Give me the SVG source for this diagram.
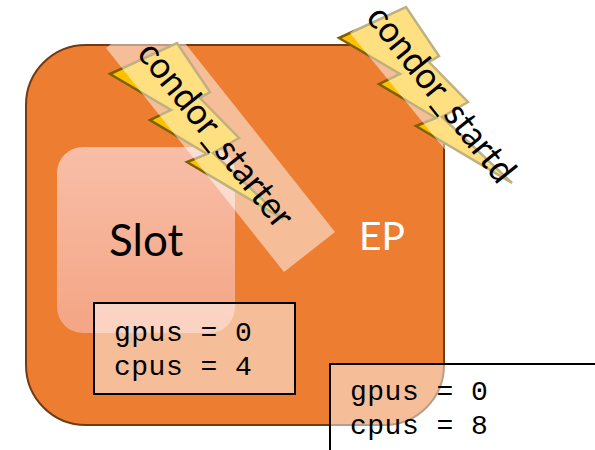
<svg xmlns="http://www.w3.org/2000/svg" width="595" height="450" viewBox="0 0 595 450">
<style>
.bolt{fill:#FFC000;stroke:#7F6000;stroke-width:2.5;stroke-linejoin:miter}
.veil{fill:#fff;fill-opacity:.5}
.box{fill:#fff;fill-opacity:.5;stroke:#000;stroke-width:2}
.mono{font-family:"Liberation Mono",monospace;font-size:28px;letter-spacing:.5px;fill:#000}
.cal{font-family:Lato,"Open Sans",sans-serif;fill:#000}
</style>
<defs>
<linearGradient id="sg" x1="0" y1="0" x2="0" y2="1"><stop offset="0" stop-color="#F8BEA8"/><stop offset="1" stop-color="#F4A584"/></linearGradient>
<polygon id="b" points="110,74 177,43 210,92 200,98 239,138 213,153 283,219 187,162 207,154 150,120 171,110"/>
</defs>
<g id="ep"><rect x="26" y="45" width="418" height="380" rx="60" fill="#ED7D31" stroke="#6F3B14" stroke-width="2"/>
<text class="cal" x="359" y="250" font-size="39" style="fill:#fff">EP</text></g>
<g id="slot"><rect x="57" y="147" width="178" height="186" rx="26" fill="url(#sg)"/>
<text class="cal" x="109" y="256" font-size="44">Slot</text></g>
<g id="starter"><use href="#b" class="bolt"/>
<polygon class="veil" points="106,48 157,8 335,232 284,272"/>
<text class="cal" transform="translate(136,54) rotate(51.5)" font-size="37" textLength="226" lengthAdjust="spacingAndGlyphs">condor_starter</text></g>
<g id="startd"><use href="#b" class="bolt" transform="translate(229,-36)"/>
<polygon class="veil" points="350,33 401,-7 546,171 495,211"/>
<text class="cal" transform="translate(365,18) rotate(51.5)" font-size="37" textLength="214" lengthAdjust="spacingAndGlyphs">condor_startd</text></g>
<g id="slot-ad"><rect class="box" x="94" y="303" width="201" height="91"/>
<text class="mono" x="114" y="341">gpus = 0</text><text class="mono" x="114" y="375">cpus = 4</text></g>
<g id="ep-ad"><rect class="box" x="330" y="364" width="280" height="100"/>
<text class="mono" x="350" y="400">gpus = 0</text><text class="mono" x="350" y="434">cpus = 8</text></g>
<g id="connectors"/>
</svg>
